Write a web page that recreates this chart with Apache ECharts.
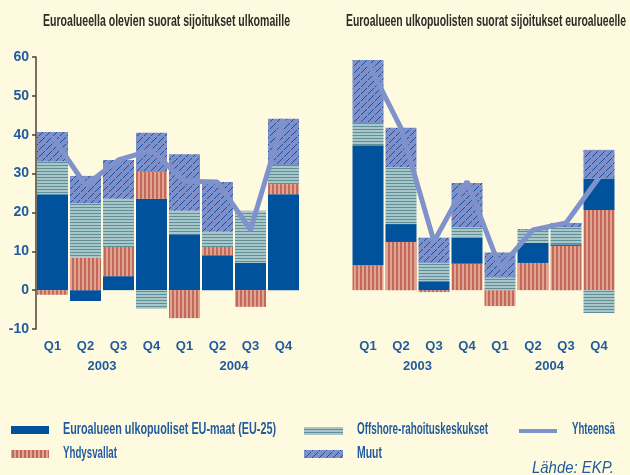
<!DOCTYPE html>
<html>
<head>
<meta charset="utf-8">
<script src="https://cdn.jsdelivr.net/npm/echarts@6/dist/echarts.min.js"></script>
<style>
  html, body { margin: 0; padding: 0; background: #fefadf; }
  #main { width: 630px; height: 475px; }
</style>
</head>
<body>
<div id="main"></div>
<script>
  // data, mrd euroa
  var quarters = ['Q1', 'Q2', 'Q3', 'Q4', 'Q1', 'Q2', 'Q3', 'Q4']
  var years = ['2003', '2004']

  // vasen: euroalueella olevien suorat sijoitukset ulkomaille
  var euLeft = [24.7, -2.8, 3.6, 23.5, 14.4, 9.0, 7.0, 24.7]
  var usLeft = [-1.2, 8.4, 7.5, 6.9, -7.2, 2.1, -4.3, 2.6]
  var offLeft = [8.4, 14.0, 12.4, -4.8, 6.0, 3.9, 13.4, 4.9]
  var muutLeft = [7.6, 7.0, 10.0, 10.1, 14.6, 12.8, 0, 11.9]
  var totalLeft = [39.5, 27.0, 33.5, 36.0, 28.0, 27.8, 15.5, 44.0]

  // oikea: euroalueen ulkopuolisten suorat sijoitukset euroalueelle
  var usRight = [6.4, 12.4, -0.5, 6.8, -4.1, 7.0, 11.4, 20.6]
  var euRight = [30.9, 4.6, 2.3, 6.7, 0, 5.2, 0.4, 8.1]
  var offRight = [5.7, 14.6, 4.7, 2.7, 3.2, 3.2, 4.4, -5.9]
  var muutRight = [16.2, 10.2, 6.5, 11.4, 6.5, 0.3, 1.1, 7.4]
  var totalRight = [58.5, 41.7, 12.5, 28.0, 5.8, 15.5, 17.3, 29.0]

  var names = {
    eu: 'Euroalueen ulkopuoliset EU-maat (EU-25)',
    us: 'Yhdysvallat',
    off: 'Offshore-rahoituskeskukset',
    muut: 'Muut',
    total: 'Yhteensä'
  }

  var blue = '#00529c'
  var lineBlue = '#7f92cb'
  var labelBlue = '#1f5b9e'
  var font = '"Liberation Sans", Arial, sans-serif'

  function pattern(w, h, draw) {
    var c = document.createElement('canvas')
    c.width = w
    c.height = h
    draw(c.getContext('2d'))
    return { image: c, repeat: 'repeat' }
  }
  // pystyraidat
  var usFill = pattern(4, 4, function (g) {
    g.fillStyle = '#e2a391'
    g.fillRect(0, 0, 4, 4)
    g.fillStyle = '#c2695b'
    g.fillRect(0, 0, 2, 4)
  })
  // vaakaraidat
  var offFill = pattern(4, 3, function (g) {
    g.fillStyle = '#a9c6c9'
    g.fillRect(0, 0, 4, 3)
    g.fillStyle = '#5f8f98'
    g.fillRect(0, 0, 4, 1)
  })
  // vinoviivat
  var muutFill = pattern(7, 7, function (g) {
    g.fillStyle = '#7d90c9'
    g.fillRect(0, 0, 7, 7)
    g.fillStyle = '#1d4f9f'
    for (var i = 0; i < 7; i++) {
      if (i % 4 !== 3) g.fillRect(i, 6 - i, 1, 1)
    }
  })

  // kapea teksti: venytetään leveys haluttuun mittaan
  var measureCtx = document.createElement('canvas').getContext('2d')
  function narrowText(text, x, y, width, fontSpec, color) {
    measureCtx.font = fontSpec
    var w = measureCtx.measureText(text).width
    return {
      type: 'text',
      x: x,
      y: y,
      scaleX: width / w,
      style: { text: text, font: fontSpec, fill: color, verticalAlign: 'middle', textVerticalAlign: 'middle' }
    }
  }
  function swatch(x, y, w, h, fill) {
    return { type: 'rect', shape: { x: x, y: y, width: w, height: h }, style: { fill: fill } }
  }

  var chart = echarts.init(document.getElementById('main'))

  function bars(name, data, fill, xi, stack) {
    return {
      name: name,
      type: 'bar',
      xAxisIndex: xi,
      yAxisIndex: xi === 0 ? 0 : 1,
      stack: stack,
      barWidth: 31,
      itemStyle: { color: fill },
      emphasis: { disabled: true },
      data: data
    }
  }
  function line(data, xi) {
    return {
      name: names.total,
      type: 'line',
      xAxisIndex: xi,
      yAxisIndex: xi === 0 ? 0 : 1,
      showSymbol: false,
      symbol: 'none',
      z: 5,
      itemStyle: { color: lineBlue },
      lineStyle: { width: 5, color: lineBlue },
      data: data
    }
  }
  var axisFont = { color: labelBlue, fontFamily: font, fontWeight: 'bold', fontSize: 13 }
  var quarterAxis = function (grid) {
    return {
      type: 'category',
      gridIndex: grid,
      data: quarters,
      axisLine: { show: false, onZero: false },
      axisTick: { show: false },
      axisLabel: Object.assign({ margin: 11 }, axisFont)
    }
  }
  var yearAxis = function (grid) {
    return {
      type: 'category',
      gridIndex: grid,
      position: 'bottom',
      offset: 20,
      data: years,
      axisLine: { show: false, onZero: false },
      axisTick: { show: false },
      axisLabel: Object.assign({ margin: 11 }, axisFont)
    }
  }

  var titleFont = 'bold 16px ' + font
  var legendFont = 'bold 16px ' + font

  chart.setOption({
    backgroundColor: '#fefadf',
    animation: false,
    grid: [
      { left: 36, top: 57, width: 264, height: 272 },
      { left: 351.5, top: 57, width: 264, height: 272 }
    ],
    xAxis: [quarterAxis(0), yearAxis(0), quarterAxis(1), yearAxis(1)],
    yAxis: [
      {
        type: 'value',
        gridIndex: 0,
        min: -10,
        max: 60,
        interval: 10,
        splitLine: { show: false },
        axisLine: { show: true, lineStyle: { color: '#4a4038', width: 1.5 } },
        axisTick: { show: true, length: 4, lineStyle: { color: '#4a4038', width: 1.5 } },
        axisLabel: { margin: 7, color: labelBlue, fontFamily: font, fontWeight: 'bold', fontSize: 14 }
      },
      { type: 'value', gridIndex: 1, min: -10, max: 60, interval: 10, show: false }
    ],
    graphic: [
      narrowText('Euroalueella olevien suorat sijoitukset ulkomaille', 43, 22, 247, titleFont, '#2e2b28'),
      narrowText('Euroalueen ulkopuolisten suorat sijoitukset euroalueelle', 346, 22, 280, titleFont, '#2e2b28'),

      swatch(11, 426, 38, 8, blue),
      narrowText(names.eu, 63, 430, 213, legendFont, labelBlue),
      swatch(11, 450, 38, 8, usFill),
      narrowText(names.us, 63, 454, 54, legendFont, labelBlue),
      swatch(304, 427, 39, 8, offFill),
      narrowText(names.off, 357, 430, 131, legendFont, labelBlue),
      swatch(304, 450, 39, 8, muutFill),
      narrowText(names.muut, 357, 454, 25, legendFont, labelBlue),
      swatch(519, 429, 38, 4, lineBlue),
      narrowText(names.total, 572, 430, 43, legendFont, labelBlue),

      narrowText('Lähde: EKP.', 532, 468, 82, 'italic 17px ' + font, labelBlue)
    ],
    series: [
      bars(names.eu, euLeft, blue, 0, 'L'),
      bars(names.us, usLeft, usFill, 0, 'L'),
      bars(names.off, offLeft, offFill, 0, 'L'),
      bars(names.muut, muutLeft, muutFill, 0, 'L'),
      line(totalLeft, 0),
      bars(names.us, usRight, usFill, 2, 'R'),
      bars(names.eu, euRight, blue, 2, 'R'),
      bars(names.off, offRight, offFill, 2, 'R'),
      bars(names.muut, muutRight, muutFill, 2, 'R'),
      line(totalRight, 2)
    ]
  })
</script>
</body>
</html>
